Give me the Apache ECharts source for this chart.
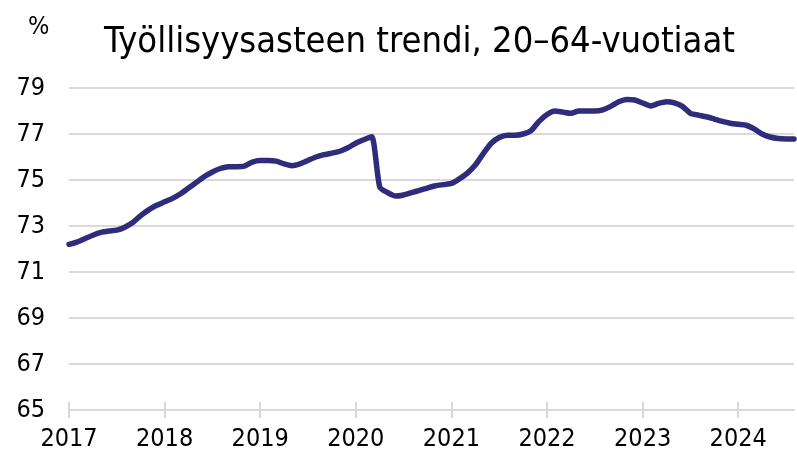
<!DOCTYPE html>
<html>
<head>
<meta charset="utf-8">
<script src="https://cdn.jsdelivr.net/npm/echarts@6/dist/echarts.min.js"></script>
<style>
html,body{margin:0;padding:0;background:#fff;}
#chart{width:797px;height:458px;}
</style>
</head>
<body>
<div id="chart"></div>
<script>
const titleText = "Työllisyysasteen trendi, 20–64-vuotiaat";
const unitText = "%";
const years = [2017, 2018, 2019, 2020, 2021, 2022, 2023, 2024];
const lastMonthOfLastYear = 8;
const yTicks = [65, 67, 69, 71, 73, 75, 77, 79];
const values = [
  72.2, 72.3, 72.45, 72.6, 72.72, 72.78, 72.82, 72.95, 73.15, 73.45, 73.7, 73.9,
  74.05, 74.2, 74.4, 74.65, 74.9, 75.15, 75.35, 75.5, 75.58, 75.58, 75.6, 75.78,
  75.85, 75.85, 75.82, 75.7, 75.62, 75.7, 75.85, 76.0, 76.1, 76.17, 76.25, 76.4,
  76.6, 76.75, 76.88, 74.7, 74.45, 74.3, 74.35, 74.45, 74.55, 74.65, 74.75, 74.8,
  74.85, 75.05, 75.3, 75.65, 76.15, 76.6, 76.85, 76.95, 76.95, 77.0, 77.15, 77.55,
  77.85, 78.0, 77.95, 77.9, 78.0, 78.0, 78.0, 78.05, 78.2, 78.4, 78.5, 78.48,
  78.35, 78.22, 78.33, 78.4, 78.35, 78.2, 77.9, 77.82, 77.75, 77.65, 77.55, 77.47,
  77.42, 77.38, 77.22, 77.0, 76.87, 76.8, 76.78, 76.78
];

const categories = [];
years.forEach((y, yi) => {
  const nMonths = (yi === years.length - 1) ? lastMonthOfLastYear : 12;
  for (let m = 1; m <= nMonths; m++) categories.push(y + '-' + String(m).padStart(2, '0'));
});

const FONT = "'DejaVu Sans Condensed', 'DejaVu Sans', sans-serif";
const GRID = '#d9d9d9';
const isJan = (idx, val) => String(val).endsWith('-01');

const chart = echarts.init(document.getElementById('chart'), null, {renderer: 'canvas'});
const grid = {left: 69, right: 3, top: 88, bottom: 48};
chart.setOption({
  animation: false,
  backgroundColor: '#ffffff',
  title: [
    {text: titleText, left: 99, top: 20, textStyle: {fontFamily: FONT, fontSize: 36, fontWeight: 'normal', color: '#000'}},
    {text: unitText, left: 23, top: 10, textStyle: {fontFamily: FONT, fontSize: 25, fontWeight: 'normal', color: '#000'}}
  ],
  grid: grid,
  xAxis: [{
    type: 'category',
    data: categories,
    boundaryGap: false,
    axisLine: {show: true, lineStyle: {color: GRID, width: 2}},
    axisTick: {show: true, interval: isJan, length: 8, lineStyle: {color: GRID, width: 2}},
    axisLabel: {interval: isJan, formatter: v => v.slice(0, 4), fontFamily: FONT, fontSize: 25, color: '#000', margin: 17},
    splitLine: {show: false}
  }, {
    type: 'category',
    data: categories,
    boundaryGap: false,
    position: 'bottom',
    axisLine: {show: false},
    axisTick: {show: true, inside: true, interval: isJan, length: 8, lineStyle: {color: GRID, width: 2}},
    axisLabel: {show: false},
    splitLine: {show: false}
  }],
  yAxis: {
    type: 'value',
    min: yTicks[0],
    max: yTicks[yTicks.length - 1],
    interval: 2,
    axisLine: {show: false},
    axisTick: {show: false},
    axisLabel: {fontFamily: FONT, fontSize: 25, color: '#000', margin: 24},
    splitLine: {show: true, lineStyle: {color: GRID, width: 2}}
  },
  series: [{
    type: 'line',
    data: values,
    xAxisIndex: 0,
    symbol: 'none',
    smooth: 0.2,
    lineStyle: {color: '#302c7c', width: 5.5, cap: 'round', join: 'round'},
    z: 5
  }]
});
</script>
</body>
</html>
